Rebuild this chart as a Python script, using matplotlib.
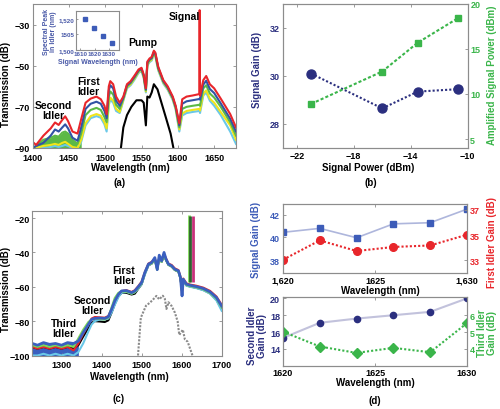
import matplotlib.pyplot as plt

plt.rcParams['font.family'] = ['Liberation Sans', 'DejaVu Sans']
plt.rcParams['font.weight'] = 'bold'
plt.rcParams['axes.labelweight'] = 'bold'

# ---------------- data ----------------
# (a) spectra, one wavelength grid for the five coloured traces
wl_a = [1400, 1405, 1415, 1425, 1431, 1436, 1441, 1445, 1449, 1455, 1462, 1467, 1473, 1480,
        1488, 1494, 1499, 1502, 1505, 1507, 1511, 1515, 1520, 1525, 1530, 1535, 1540, 1546,
        1550, 1553, 1556, 1558, 1561, 1564, 1567, 1569, 1573, 1580, 1586, 1593, 1597, 1602,
        1606, 1612, 1620, 1629.5, 1630, 1630.5, 1635, 1639, 1644, 1650, 1659, 1672, 1680]
red_a = [-87, -88.5, -84, -80.5, -77.6, -78.8, -76.3, -74.6, -77, -82, -83, -76, -68, -66,
         -65, -66.3, -69.5, -73.6, -60, -57.5, -59, -65, -68, -65, -59, -57.5, -55, -51.8,
         -51, -54.3, -61, -48, -46.5, -45.7, -42.7, -43.6, -50.5, -57, -60, -65, -69.5, -78,
         -66.3, -65, -64.5, -63.8, -23, -64.6, -57, -55, -59, -61, -66, -73.5, -80]
blue_a = [-90, -89, -87.5, -84, -81, -82, -80, -78.5, -80.5, -85, -86.5, -80, -71, -68.5,
          -67.5, -68.5, -72, -75.5, -62, -59.5, -61, -67, -69.5, -65.5, -59.5, -58, -55.5, -52.3,
          -51.5, -54.8, -61.5, -48.5, -47, -46.2, -43.2, -44.1, -51, -57.5, -60.5, -65.5, -70, -79,
          -68.5, -67.3, -66.8, -66.2, -66, -66.5, -59.2, -57.3, -61.3, -63.3, -68.3, -75.8, -82]
green_a = [-90, -89, -86, -85, -84, -84.5, -82.5, -82, -83, -86, -88, -83, -74, -71.5,
           -70.5, -71.5, -75, -77.5, -65, -62.5, -64, -69, -71, -66, -60, -58.5, -56, -52.5,
           -51.8, -55, -62, -49, -47.3, -46.5, -43.6, -44.5, -51.3, -57.8, -60.8, -65.8, -70.3, -80,
           -71, -70, -69.5, -69, -69, -69.5, -61, -59.5, -63.5, -65.5, -70, -77.5, -84]
yellow_a = [-90, -90, -89, -88.5, -88, -88.5, -87.5, -87, -88, -89.5, -90, -86, -78, -74.5,
            -73.5, -74.3, -77.5, -80.5, -68, -65.5, -67, -71, -72.5, -66.5, -60.5, -59, -56.5, -53,
            -52.2, -55.5, -62.5, -49.5, -47.8, -47, -44, -45, -51.8, -58.2, -61.2, -66.2, -70.8, -81,
            -73.2, -72, -71.5, -71, -71, -71.8, -63.5, -62, -66, -68, -72.5, -79, -86]
cyan_a = [-90, -90, -90, -89.5, -89, -89.5, -89, -88.5, -89, -90, -90, -87, -79, -75.5,
          -74.5, -75.3, -78.5, -82, -69, -66.5, -68, -72, -73, -67, -61, -59.5, -57, -53.5,
          -52.6, -56, -63, -50, -48.3, -47.5, -44.5, -45.5, -52.3, -58.7, -61.7, -66.7, -71.3, -82,
          -74.2, -73, -72.5, -72, -72, -73, -64.5, -63, -67, -69.5, -74, -82, -88]
# (a) pump alone
pump_wl_a = [1521, 1525, 1530, 1536, 1543, 1550, 1553, 1556, 1558, 1561, 1564, 1567, 1572,
             1576, 1583, 1590, 1595]
pump_db_a = [-92, -80, -74, -70, -66.8, -66.8, -68, -79, -65, -65.5, -63, -59, -61.5,
             -66.3, -74.6, -83, -92]
# (a) inset
inset_signal_wl = [1613, 1619.5, 1626, 1632]
inset_idler_peak = [1520, 1514.3, 1508.8, 1504.8]

# (b)
signal_power = [-21, -16, -13.5, -10.7]
signal_gain_b = [30.1, 28.65, 29.35, 29.45]
amplified_power = [8.9, 12.5, 15.7, 18.4]

# (c) spectra
wl_c = [1227, 1240, 1255, 1270, 1285, 1300, 1315, 1330, 1342, 1354, 1367, 1375, 1383, 1396,
        1408, 1417, 1425, 1433, 1442, 1450, 1462, 1475, 1483, 1492, 1500, 1508, 1517, 1525,
        1533, 1539, 1544, 1550, 1556, 1561, 1567, 1575, 1583, 1592, 1597, 1601, 1604, 1612,
        1621, 1637, 1654, 1671, 1687, 1700]
blue_c = [-93, -94, -92.5, -93.5, -93, -94, -92.5, -93, -91.6, -86.7, -81.9, -79, -78.4, -78.2,
          -78.4, -77.4, -73.1, -68.2, -64.4, -62.4, -62.2, -63.4, -62.4, -59.9, -57.5, -51.7, -46.8, -45.9,
          -43, -50, -41.6, -44.9, -40, -43.9, -46.8, -47.8, -49.8, -50.7, -54.6, -65.3, -55.6, -58.5,
          -59.1, -59.9, -61, -63, -66.3, -71.2]
red_c = [-95, -96, -95, -96, -95, -96, -95, -97, -93, -87.5, -82, -78.5, -77.6, -77.8,
         -78, -77, -73, -68, -64.5, -62.5, -62, -63, -62, -59.5, -57, -51.5, -46.5, -45.5,
         -43.5, -48, -44, -44.5, -41, -43.5, -46.5, -47.3, -49.3, -50.3, -54, -64, -55.2, -58,
         -58.7, -59.4, -60.5, -62.4, -65.7, -70.5]
green_c = [-94, -95, -94, -95, -94, -95, -94, -95, -90, -85, -80.5, -79, -78.6, -78.8,
           -79, -77.8, -72, -66.5, -63.5, -62.8, -62.8, -64, -63, -60.5, -58, -52, -47, -46.5,
           -44, -50, -43, -45.5, -41.5, -44.5, -47.2, -48.2, -50.2, -51.2, -55, -63, -56, -59,
           -59.6, -60.4, -61.5, -63.6, -67, -72]
cyan_c = [-100, -100, -99, -100, -99, -100, -99, -100, -98, -93, -86, -82, -80, -79,
          -79, -78.5, -75, -70.5, -66, -63.5, -63, -64, -63.2, -61, -58.5, -53, -47.5, -46.5,
          -44, -50, -43, -45.5, -41.5, -44.5, -47.2, -48.2, -50.2, -51.2, -55, -62, -56.5, -59.4,
          -60, -60.8, -62, -64, -68, -74]
black_c = [-95, -96, -95, -96, -95, -96, -95, -96, -94, -89, -84, -81, -80, -80.2,
           -80.5, -79.5, -75, -70, -65.5, -63.5, -63.5, -64.5, -64, -61, -58.5, -52.5, -47.5, -46.5,
           -44, -50, -43, -45.5, -41.5, -44.5, -47.2, -48.2, -50.2, -51.2, -55, -62, -56.3, -59.2,
           -59.8, -60.6, -61.8, -63.8, -67.5, -73]
signal_lines_wl = [1619, 1621.5, 1628]
signal_lines_top = [-18, -19, -19]
pump_wl_c = [1491, 1494, 1498, 1511, 1521, 1529, 1537, 1544, 1553, 1558, 1562, 1567, 1575,
             1583, 1590, 1594, 1603, 1608, 1615, 1627]
pump_db_c = [-100, -90.6, -78, -71, -69.2, -67.3, -65.3, -67.3, -65.2, -67, -72.9, -69, -71.2,
             -75, -80.2, -88, -85, -90.6, -92, -100]

# (d)
wl_d = [1620, 1622, 1624, 1626, 1628, 1630]
signal_gain_d = [40.45, 40.8, 39.97, 41.2, 41.3, 42.5]
first_idler_gain = [33.05, 34.58, 33.74, 34.06, 34.18, 35.03]
second_idler_gain = [15.3, 17.1, 17.6, 18.0, 18.4, 20.0]
third_idler_gain = [5.02, 4.14, 3.76, 4.06, 3.80, 5.53]

# ---------------- colours ----------------
RED = '#e8262b'
BLUE = '#3153a5'
GREEN = '#5cb946'
YELLOW = '#f0e41a'
CYAN = '#6ac8e8'
NAVY = '#2b2f7f'
DGREEN = '#3ab54a'
MBLUE = '#3d5cb8'
SPINE = '#8c8c8c'

W, H = 500, 410
TS = 6.5   # tick labels
LS = 7     # axis labels
fig = plt.figure(figsize=(5, 4.1), dpi=100)


def axes_px(l, t, r, b):
    return fig.add_axes([l / W, 1 - b / H, (r - l) / W, (b - t) / H])


def style(ax, color='black', size=TS, top=True, right=True):
    for s in ax.spines.values():
        s.set_color(SPINE)
        s.set_linewidth(0.8)
    ax.tick_params(direction='in', length=2.5, width=0.6, labelsize=size, pad=2,
                   colors=SPINE, labelcolor=color, top=top, right=right)


def ylab(ax, text, x, y=0.5, color='black', size=LS):
    ax.set_ylabel(text, color=color, fontsize=size, va='center', linespacing=1.0)
    ax.yaxis.set_label_coords(x, y)


def xlab(ax, text, y, x=0.5, size=LS):
    ax.set_xlabel(text, fontsize=size, va='center')
    ax.xaxis.set_label_coords(x, y)


# ---------------- (a) ----------------
ax = axes_px(32.5, 5, 236, 149)
mask = [1405 <= w <= 1467 for w in wl_a]
ax.fill_between(wl_a, green_a, -90, where=mask, color=GREEN, lw=0)
for ys, c in [(cyan_a, CYAN), (yellow_a, YELLOW), (green_a, GREEN), (blue_a, BLUE), (red_a, RED)]:
    ax.plot(wl_a, ys, color=c, lw=1.5)
ax.plot(pump_wl_a, pump_db_a, color='black', lw=1.5)
ax.set_xlim(1400, 1680)
ax.set_ylim(-90, -20)
ax.set_xticks([1400, 1450, 1500, 1550, 1600, 1650])
ax.set_yticks([-90, -70, -50, -30])
style(ax)
ax.tick_params(axis='x', pad=3.5)
ylab(ax, 'Transmission (dB)', -0.128, 0.45)
xlab(ax, 'Wavelength (nm)', -0.13, 0.48)
ax.text(1429, -71.5, 'Second\nIdler', ha='center', va='center', fontsize=7.5, linespacing=1.0)
ax.text(1477, -59.8, 'First\nIdler', ha='center', va='center', fontsize=7.5, linespacing=1.0)
ax.text(1552, -38.3, 'Pump', ha='center', va='center', fontsize=7.5)
ax.text(1609, -25.6, 'Signal', ha='center', va='center', fontsize=7.5)

ins = axes_px(76, 12, 119, 51)
ins.plot(inset_signal_wl, inset_idler_peak, 's', color=MBLUE, ms=3.5)
ins.set_xlim(1607, 1637)
ins.set_ylim(1500, 1525)
ins.set_xticks([1610, 1620, 1630])
ins.set_yticks([1500, 1510, 1520])
ins.set_yticklabels(['1,500', '1505', '1,520'])
style(ins, color='#4a5aa8', size=4.5, top=False, right=False)
ins.tick_params(pad=1, length=1.5)
ins.set_xlabel('Signal Wavelength (nm)', fontsize=5, color='#4a5aa8', labelpad=1)
ins.set_ylabel('Spectral Peak\nin Idler (nm)', fontsize=5, color='#4a5aa8', labelpad=1,
               linespacing=1.0)

fig.text(120 / W, 1 - 183 / H, '(a)', ha='center', va='center', fontsize=LS)

# ---------------- (b) ----------------
ax = axes_px(282.7, 5, 467.5, 149)
ax.plot(signal_power, signal_gain_b, color=NAVY, ls=(0, (1, 1)), lw=1.5, marker='o', ms=6.5)
ax.set_xlim(-23, -10)
ax.set_ylim(27, 33)
ax.set_xticks([-22, -18, -14, -10])
ax.set_yticks([28, 30, 32])
style(ax, color=NAVY, right=False)
ax.tick_params(axis='x', labelcolor='black')
ylab(ax, 'Signal Gain (dB)', -0.141, 0.55, color=NAVY)
xlab(ax, 'Signal Power (dBm)', -0.135, 0.46)
ax2 = ax.twinx()
ax2.plot(signal_power, amplified_power, color=DGREEN, ls=(0, (1.5, 1)), lw=1.5, marker='s', ms=5)
ax2.set_ylim(4, 20)
ax2.set_yticks([5, 10, 15, 20])
style(ax2, color=DGREEN, top=False)
ax2.tick_params(left=False, right=True)
ylab(ax2, 'Amplified Signal Power (dBm)', 1.131, 0.51, color=DGREEN)
fig.text(371 / W, 1 - 183 / H, '(b)', ha='center', va='center', fontsize=LS)

# ---------------- (c) ----------------
ax = axes_px(32.3, 211.7, 221.7, 356.5)
for ys, c in [(black_c, 'black'), (cyan_c, CYAN), (red_c, RED), (green_c, '#7ed957')]:
    ax.plot(wl_c, ys, color=c, lw=1.5)
for w, top, c in zip(signal_lines_wl, signal_lines_top, ['#7ed957', '#2f5f2f', '#c8307a']):
    ax.vlines(w, -57, top, color=c, lw=2)
band = [w <= 1342 for w in wl_c]
ax.fill_between(wl_c, blue_c, -100, where=band, color='#3a5fbf', lw=0)
ax.plot(wl_c, blue_c, color='#3a5fbf', lw=2)
ax.plot(pump_wl_c, pump_db_c, color='#8a8a8a', ls=(0, (1, 0.7)), lw=1.5)
ax.set_xlim(1227, 1700)
ax.set_ylim(-100, -15.7)
ax.set_xticks([1300, 1400, 1500, 1600, 1700])
ax.set_yticks([-100, -80, -60, -40, -20])
style(ax)
ax.tick_params(axis='x', pad=3)
ylab(ax, 'Transmission (dB)', -0.139, 0.46)
xlab(ax, 'Wavelength (nm)', -0.144, 0.51)
ax.text(1456, -53, 'First\nIdler', ha='center', va='center', fontsize=7.5, linespacing=1.0)
ax.text(1377, -70.6, 'Second\nIdler', ha='center', va='center', fontsize=7.5, linespacing=1.0)
ax.text(1305, -84, 'Third\nIdler', ha='center', va='center', fontsize=7.5, linespacing=1.0)
fig.text(119 / W, 1 - 399 / H, '(c)', ha='center', va='center', fontsize=LS)

# ---------------- (d) top ----------------
ax = axes_px(283, 204.5, 467, 274)
ax.plot(wl_d, signal_gain_d, color='#aeb6dc', lw=1.2, marker='s', ms=4.5,
        mfc=MBLUE, mec=MBLUE)
ax.set_xlim(1620, 1630)
ax.set_ylim(36.85, 43)
ax.set_xticks([1620, 1625, 1630])
ax.set_xticklabels(['1,620', '1625', '1,630'])
ax.set_yticks([38, 40, 42])
style(ax, color=MBLUE, right=False)
ax.tick_params(axis='x', labelcolor='black')
ylab(ax, 'Signal Gain (dB)', -0.147, 0.49, color=MBLUE)
xlab(ax, 'Wavelength (nm)', -0.25, 0.527)
ax2 = ax.twinx()
ax2.plot(wl_d, first_idler_gain, color=RED, ls=(0, (1, 1)), lw=1.5, marker='o', ms=5.5)
ax2.set_ylim(32.0, 37.5)
ax2.set_yticks([33, 35, 37])
style(ax2, color=RED, top=False)
ax2.tick_params(left=False, right=True)
ylab(ax2, 'First Idler Gain (dB)', 1.136, 0.46, color=RED)

# ---------------- (d) bottom ----------------
ax = axes_px(283, 297.7, 467, 366.7)
ax.plot(wl_d, second_idler_gain, color='#c2c2dc', lw=1.5, marker='o', ms=4.5,
        mfc=NAVY, mec=NAVY)
ax.set_xlim(1620, 1630)
ax.set_ylim(12, 20.2)
ax.set_xticks([1620, 1625, 1630])
ax.set_yticks([14, 16, 18, 20])
style(ax, color=NAVY, right=False)
ax.tick_params(axis='x', labelcolor='black')
ylab(ax, 'Second Idler\nGain (dB)', -0.14, 0.45, color=NAVY)
xlab(ax, 'Wavelength (nm)', -0.235, 0.5)
ax2 = ax.twinx()
ax2.plot(wl_d, third_idler_gain, color=DGREEN, ls=(0, (1, 1)), lw=1.5, marker='D', ms=5)
ax2.set_ylim(3.0, 7.1)
ax2.set_yticks([4, 5, 6])
style(ax2, color=DGREEN, top=False)
ax2.tick_params(left=False, right=True)
ylab(ax2, 'Third Idler\nGain (dB)', 1.111, 0.49, color=DGREEN)
fig.text(375 / W, 1 - 401 / H, '(d)', ha='center', va='center', fontsize=LS)

fig.savefig('out.png', dpi=100)
